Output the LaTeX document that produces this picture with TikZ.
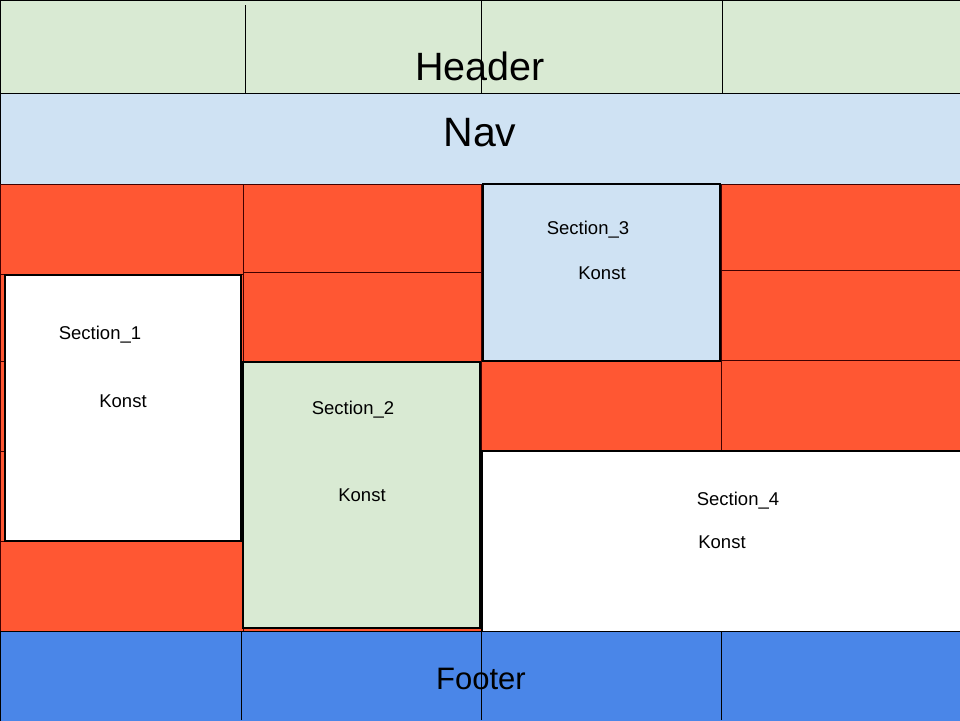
\documentclass[tikz,border=0pt]{standalone}
\usepackage{fontspec}
\setmainfont{Liberation Sans}
\definecolor{hdr}{HTML}{D9EAD3}
\definecolor{navc}{HTML}{CFE2F3}
\definecolor{redc}{HTML}{FF5733}
\definecolor{foot}{HTML}{4A86E8}
\begin{document}
\begin{tikzpicture}[x=1pt,y=-1pt,
  band/.style={draw=black,line width=1pt},
  cell/.style={fill=redc,draw=black!75!red,line width=0.9pt},
  sect/.style={draw=black,line width=1.1pt},
  sline/.style={draw=black,line width=0.9pt},
  big/.style={font=\fontsize{41}{48}\selectfont,inner sep=0pt},
  small/.style={font=\fontsize{18.5}{22}\selectfont,inner sep=0pt}]
\useasboundingbox (0,0) rectangle (960,720);
% header
\draw[band,fill=hdr] (0,0) rectangle (960,93);
\draw[sline] (245,5) -- (245,93);
\draw[sline] (481,0) -- (481,93);
\draw[sline] (722,0) -- (722,93);
\node[big] (header) at (480,66) {\fontsize{39.5}{46}\selectfont Header};
% nav
\draw[band,fill=navc] (0,93) rectangle (960,184);
\node[big] (nav) at (480,133) {Nav};
% red grid
\foreach \xa/\xb in {0/243,243/481,481/721,721/960}{
  \foreach \ya/\yb in {184/272,272/361,361/451,451/541,541/631}{
    \draw[cell] (\xa,\ya) rectangle (\xb,\yb);
  }
}
\draw[cell] (721,184) rectangle (960,270);
\draw[cell] (721,270) rectangle (960,360);
\draw[cell] (721,360) rectangle (960,451);
\draw[cell] (0,184) rectangle (243,274);
% sections
\draw[sect,fill=white] (5,275) rectangle (241,541);
\node[small] (s1) at (100,334.5) {Section\_1};
\node[small] (k1) at (123,401) {Konst};
\draw[sect,fill=hdr] (243,362) rectangle (480,628);
\node[small] (s2) at (353,409.5) {Section\_2};
\node[small] (k2) at (362,495) {Konst};
\draw[sect,fill=navc] (483,184) rectangle (720,361);
\node[small] (s3) at (588,229.5) {Section\_3};
\node[small] (k3) at (602,273) {Konst};
\draw[sect,fill=white] (482,451) rectangle (961,632);
\node[small] (s4) at (738,500.5) {Section\_4};
\node[small] (k4) at (722,542) {Konst};
% footer
\draw[band,fill=foot] (0,631) rectangle (960,721);
\draw[sline] (241,631) -- (241,720);
\draw[sline] (481,631) -- (481,720);
\draw[sline] (721,631) -- (721,720);
\node[big] (footer) at (481,679) {\fontsize{31}{37}\selectfont Footer};
\end{tikzpicture}
\end{document}
